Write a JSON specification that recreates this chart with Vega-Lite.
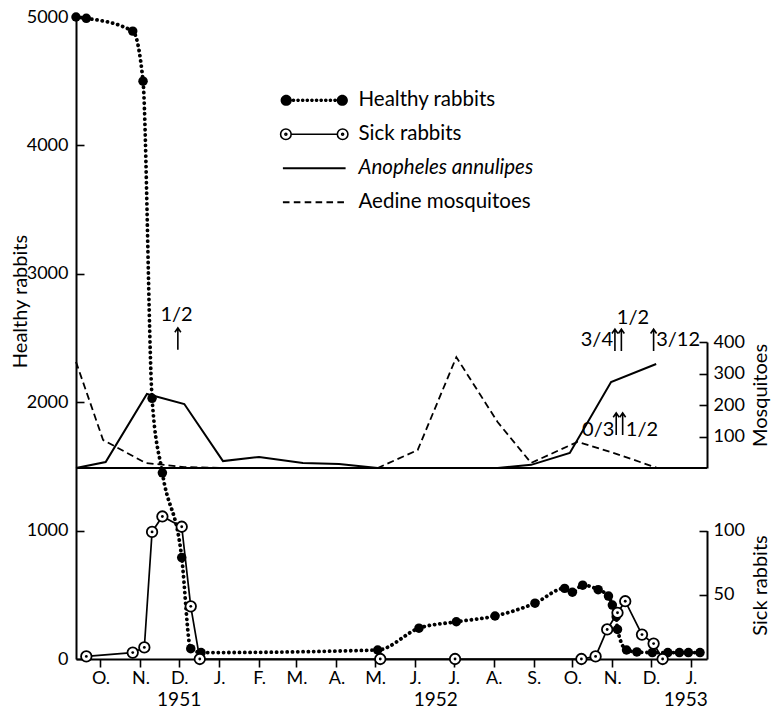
{
  "$schema": "https://vega.github.io/schema/vega-lite/v6.json",
  "width": 631,
  "height": 642,
  "autosize": {"type": "none"},
  "padding": {"left": 76, "top": 17, "right": 64, "bottom": 55},
  "background": "white",
  "config": {
    "view": {"stroke": null},
    "font": "Lato",
    "axis": {
      "domainColor": "black", "domainWidth": 2, "tickColor": "black", "tickWidth": 1.6,
      "labelColor": "black", "titleColor": "black", "labelFont": "Lato", "titleFont": "Lato",
      "labelFontSize": 18, "titleFontSize": 20, "titleFontWeight": "normal", "grid": false
    }
  },
  "datasets": {
    "healthy": [
      {"date": "1951-09-12", "n": 5000}, {"date": "1951-09-20", "n": 4990}, {"date": "1951-10-26", "n": 4890},
      {"date": "1951-11-03", "n": 4500}, {"date": "1951-11-10", "n": 2030}, {"date": "1951-11-18", "n": 1450},
      {"date": "1951-12-03", "n": 790}, {"date": "1951-12-10", "n": 80}, {"date": "1951-12-18", "n": 50},
      {"date": "1952-05-03", "n": 70}, {"date": "1952-06-04", "n": 240}, {"date": "1952-07-03", "n": 290},
      {"date": "1952-08-02", "n": 335}, {"date": "1952-09-02", "n": 435}, {"date": "1952-09-25", "n": 550},
      {"date": "1952-10-01", "n": 520}, {"date": "1952-10-09", "n": 575}, {"date": "1952-10-21", "n": 540},
      {"date": "1952-10-29", "n": 490}, {"date": "1952-11-01", "n": 420}, {"date": "1952-11-04", "n": 330},
      {"date": "1952-11-05", "n": 230}, {"date": "1952-11-12", "n": 70}, {"date": "1952-11-20", "n": 55},
      {"date": "1952-12-02", "n": 50}, {"date": "1952-12-14", "n": 50}, {"date": "1952-12-23", "n": 50},
      {"date": "1952-12-30", "n": 50}, {"date": "1953-01-08", "n": 50}
    ],
    "sick": [
      {"date": "1951-09-20", "n": 2}, {"date": "1951-10-26", "n": 5}, {"date": "1951-11-04", "n": 9},
      {"date": "1951-11-10", "n": 99}, {"date": "1951-11-18", "n": 111}, {"date": "1951-12-03", "n": 103},
      {"date": "1951-12-10", "n": 41}, {"date": "1951-12-17", "n": 0}, {"date": "1952-05-05", "n": 0},
      {"date": "1952-07-02", "n": 0}, {"date": "1952-10-08", "n": 0}, {"date": "1952-10-19", "n": 2},
      {"date": "1952-10-28", "n": 23}, {"date": "1952-11-05", "n": 36}, {"date": "1952-11-11", "n": 45},
      {"date": "1952-11-24", "n": 19}, {"date": "1952-12-03", "n": 12}, {"date": "1952-12-10", "n": 0}
    ],
    "mosq": [
      {"date": "1951-09-12", "species": "Anopheles annulipes", "n": 0},
      {"date": "1951-10-05", "species": "Anopheles annulipes", "n": 19},
      {"date": "1951-11-06", "species": "Anopheles annulipes", "n": 235},
      {"date": "1951-12-05", "species": "Anopheles annulipes", "n": 203},
      {"date": "1952-01-04", "species": "Anopheles annulipes", "n": 22},
      {"date": "1952-02-01", "species": "Anopheles annulipes", "n": 35},
      {"date": "1952-03-06", "species": "Anopheles annulipes", "n": 16},
      {"date": "1952-04-03", "species": "Anopheles annulipes", "n": 13},
      {"date": "1952-05-03", "species": "Anopheles annulipes", "n": 0},
      {"date": "1952-06-03", "species": "Anopheles annulipes", "n": 0},
      {"date": "1952-07-03", "species": "Anopheles annulipes", "n": 0},
      {"date": "1952-08-04", "species": "Anopheles annulipes", "n": 0},
      {"date": "1952-08-30", "species": "Anopheles annulipes", "n": 10},
      {"date": "1952-09-29", "species": "Anopheles annulipes", "n": 48},
      {"date": "1952-10-31", "species": "Anopheles annulipes", "n": 273},
      {"date": "1952-12-05", "species": "Anopheles annulipes", "n": 330},
      {"date": "1951-09-12", "species": "Aedine mosquitoes", "n": 337},
      {"date": "1951-10-03", "species": "Aedine mosquitoes", "n": 89},
      {"date": "1951-11-05", "species": "Aedine mosquitoes", "n": 16},
      {"date": "1951-12-05", "species": "Aedine mosquitoes", "n": 3},
      {"date": "1952-01-04", "species": "Aedine mosquitoes", "n": 0},
      {"date": "1952-02-01", "species": "Aedine mosquitoes", "n": 0},
      {"date": "1952-03-06", "species": "Aedine mosquitoes", "n": 0},
      {"date": "1952-04-03", "species": "Aedine mosquitoes", "n": 0},
      {"date": "1952-05-03", "species": "Aedine mosquitoes", "n": 0},
      {"date": "1952-06-03", "species": "Aedine mosquitoes", "n": 57},
      {"date": "1952-07-03", "species": "Aedine mosquitoes", "n": 352},
      {"date": "1952-08-04", "species": "Aedine mosquitoes", "n": 146},
      {"date": "1952-08-30", "species": "Aedine mosquitoes", "n": 16},
      {"date": "1952-10-05", "species": "Aedine mosquitoes", "n": 83},
      {"date": "1952-11-04", "species": "Aedine mosquitoes", "n": 45},
      {"date": "1952-12-06", "species": "Aedine mosquitoes", "n": 0}
    ],
    "fractions": [
      {"date": "1951-11-29", "m": 486, "t": "1/2"},
      {"date": "1952-11-17", "m": 476, "t": "1/2"},
      {"date": "1952-10-20", "m": 406, "t": "3/4"},
      {"date": "1952-12-22", "m": 406, "t": "3/12"},
      {"date": "1952-10-21", "m": 121, "t": "0/3"},
      {"date": "1952-11-24", "m": 121, "t": "1/2"}
    ],
    "arrows": [
      {"date": "1951-11-30", "m": 410},
      {"date": "1952-11-03", "m": 406},
      {"date": "1952-11-08", "m": 406},
      {"date": "1952-12-03", "m": 406},
      {"date": "1952-11-04", "m": 140},
      {"date": "1952-11-09", "m": 140}
    ],
    "years": [
      {"date": "1951-12-01", "t": "1951"},
      {"date": "1952-06-17", "t": "1952"},
      {"date": "1952-12-28", "t": "1953"}
    ]
  },
  "layer": [
    {
      "layer": [
        {
          "data": {"name": "healthy"},
          "mark": {"type": "line", "interpolate": "monotone", "strokeDash": [0.1, 5.2], "strokeCap": "round", "strokeWidth": 3.8},
          "encoding": {
            "x": {"field": "date", "type": "temporal", "title": null,
              "scale": {"type": "utc", "domain": [{"year": 1951, "month": 9, "date": 12, "utc": true}, {"year": 1953, "month": 1, "date": 13, "hours": 10, "utc": true}]},
              "axis": {"orient": "bottom",
                "values": [
                  {"year": 1951, "month": 10, "date": 1, "utc": true}, {"year": 1951, "month": 11, "date": 1, "utc": true},
                  {"year": 1951, "month": 12, "date": 1, "utc": true}, {"year": 1952, "month": 1, "date": 1, "utc": true},
                  {"year": 1952, "month": 2, "date": 1, "utc": true}, {"year": 1952, "month": 3, "date": 1, "utc": true},
                  {"year": 1952, "month": 4, "date": 1, "utc": true}, {"year": 1952, "month": 5, "date": 1, "utc": true},
                  {"year": 1952, "month": 6, "date": 1, "utc": true}, {"year": 1952, "month": 7, "date": 1, "utc": true},
                  {"year": 1952, "month": 8, "date": 1, "utc": true}, {"year": 1952, "month": 9, "date": 1, "utc": true},
                  {"year": 1952, "month": 10, "date": 1, "utc": true}, {"year": 1952, "month": 11, "date": 1, "utc": true},
                  {"year": 1952, "month": 12, "date": 1, "utc": true}, {"year": 1953, "month": 1, "date": 1, "utc": true}
                ],
                "labelExpr": "substring(utcFormat(datum.value, '%b'), 0, 1) + '.'",
                "tickSize": 8, "labelPadding": 2, "labelOverlap": false, "labelFlush": false}},
            "y": {"field": "n", "type": "quantitative", "title": "Healthy rabbits",
              "scale": {"domain": [0, 5000], "nice": false, "zero": true},
              "axis": {"orient": "left", "values": [0, 1000, 2000, 3000, 4000, 5000], "format": "d", "tickSize": -8, "labelPadding": 16,
                "titleAngle": 270, "titleX": -56, "titleY": 284, "titleBaseline": "middle", "titleAlign": "center"}},
            "color": {"datum": "Healthy rabbits", "type": "nominal",
              "scale": {"domain": ["Healthy rabbits", "Sick rabbits", "Anopheles annulipes", "Aedine mosquitoes"], "range": ["black", "black", "black", "black"]},
              "legend": {
                "orient": "none", "legendX": 204, "legendY": 73, "title": null,
                "symbolSize": 4356, "rowPadding": 13, "labelOffset": 34, "symbolOffset": 24,
                "labelFontSize": 20.5, "labelFont": "Lato", "labelColor": "black", "labelLimit": 400,
                "encode": {
                  "symbols": {"update": {
                    "shape": {"signal": "datum.value === 'Healthy rabbits' ? 'M-1.02,0A0.17,0.17,0,1,0,-0.68,0A0.17,0.17,0,1,0,-1.02,0ZM0.68,0A0.17,0.17,0,1,0,1.02,0A0.17,0.17,0,1,0,0.68,0ZM-0.685,0A0.055,0.055,0,1,0,-0.575,0A0.055,0.055,0,1,0,-0.685,0ZM-0.545,0A0.055,0.055,0,1,0,-0.435,0A0.055,0.055,0,1,0,-0.545,0ZM-0.405,0A0.055,0.055,0,1,0,-0.295,0A0.055,0.055,0,1,0,-0.405,0ZM-0.265,0A0.055,0.055,0,1,0,-0.155,0A0.055,0.055,0,1,0,-0.265,0ZM-0.125,0A0.055,0.055,0,1,0,-0.015,0A0.055,0.055,0,1,0,-0.125,0ZM0.015,0A0.055,0.055,0,1,0,0.125,0A0.055,0.055,0,1,0,0.015,0ZM0.155,0A0.055,0.055,0,1,0,0.265,0A0.055,0.055,0,1,0,0.155,0ZM0.295,0A0.055,0.055,0,1,0,0.405,0A0.055,0.055,0,1,0,0.295,0ZM0.435,0A0.055,0.055,0,1,0,0.545,0A0.055,0.055,0,1,0,0.435,0ZM0.575,0A0.055,0.055,0,1,0,0.685,0A0.055,0.055,0,1,0,0.575,0Z' : datum.value === 'Sick rabbits' ? 'M-0.7,0L0.7,0M-1.02,0A0.16,0.16,0,1,0,-0.7,0A0.16,0.16,0,1,0,-1.02,0ZM0.7,0A0.16,0.16,0,1,0,1.02,0A0.16,0.16,0,1,0,0.7,0ZM-0.89,0A0.03,0.03,0,1,0,-0.83,0A0.03,0.03,0,1,0,-0.89,0ZM0.83,0A0.03,0.03,0,1,0,0.89,0A0.03,0.03,0,1,0,0.83,0Z' : datum.value === 'Anopheles annulipes' ? 'M-0.95,0L0.95,0' : 'M-0.95,0L-0.75,0M-0.62,0L-0.42,0M-0.29,0L-0.09,0M0.04,0L0.24,0M0.37,0L0.57,0M0.7,0L0.9,0'"},
                    "fill": {"signal": "datum.value === 'Healthy rabbits' ? 'black' : 'transparent'"},
                    "stroke": {"value": "black"},
                    "strokeWidth": {"signal": "datum.value === 'Healthy rabbits' ? 0 : datum.value === 'Sick rabbits' ? 1.6 : 2"},
                    "size": {"value": 4356},
                    "opacity": {"value": 1}
                  }},
                  "labels": {"update": {
                    "fontStyle": {"signal": "datum.value === 'Anopheles annulipes' ? 'italic' : 'normal'"}
                  }}
                }
              }}
          }
        },
        {
          "data": {"name": "healthy"},
          "mark": {"type": "point", "shape": "circle", "filled": true, "color": "black", "size": 90, "opacity": 1},
          "encoding": {
            "x": {"field": "date", "type": "temporal",
              "scale": {"type": "utc", "domain": [{"year": 1951, "month": 9, "date": 12, "utc": true}, {"year": 1953, "month": 1, "date": 13, "hours": 10, "utc": true}]}},
            "y": {"field": "n", "type": "quantitative", "scale": {"domain": [0, 5000], "nice": false, "zero": true}}
          }
        },
        {
          "data": {"name": "years"},
          "mark": {"type": "text", "font": "Lato", "fontSize": 19, "baseline": "middle", "align": "center", "color": "black"},
          "encoding": {
            "x": {"field": "date", "type": "temporal",
              "scale": {"type": "utc", "domain": [{"year": 1951, "month": 9, "date": 12, "utc": true}, {"year": 1953, "month": 1, "date": 13, "hours": 10, "utc": true}]}},
            "y": {"datum": -320, "type": "quantitative", "scale": {"domain": [0, 5000], "nice": false, "zero": true}},
            "text": {"field": "t"}
          }
        }
      ]
    },
    {
      "layer": [
        {
          "data": {"name": "sick"},
          "mark": {"type": "line", "strokeWidth": 1.7},
          "encoding": {
            "x": {"field": "date", "type": "temporal",
              "scale": {"type": "utc", "domain": [{"year": 1951, "month": 9, "date": 12, "utc": true}, {"year": 1953, "month": 1, "date": 13, "hours": 10, "utc": true}]}},
            "y": {"field": "n", "type": "quantitative", "title": "Sick rabbits",
              "scale": {"domain": [0, 100], "range": [642, 513.6], "nice": false, "zero": false},
              "axis": {"orient": "right", "values": [50, 100], "format": "d", "tickSize": -8, "labelPadding": 14,
                "titleAngle": 270, "titleX": 53, "titleY": 568, "titleBaseline": "middle", "titleAlign": "center"}},
            "color": {"datum": "Sick rabbits", "type": "nominal",
              "scale": {"domain": ["Healthy rabbits", "Sick rabbits", "Anopheles annulipes", "Aedine mosquitoes"], "range": ["black", "black", "black", "black"]}}
          }
        },
        {
          "data": {"name": "sick"},
          "mark": {"type": "point", "shape": "circle", "filled": true, "fill": "white", "stroke": "black", "strokeWidth": 1.8, "size": 110, "opacity": 1},
          "encoding": {
            "x": {"field": "date", "type": "temporal",
              "scale": {"type": "utc", "domain": [{"year": 1951, "month": 9, "date": 12, "utc": true}, {"year": 1953, "month": 1, "date": 13, "hours": 10, "utc": true}]}},
            "y": {"field": "n", "type": "quantitative", "title": "Sick rabbits", "scale": {"domain": [0, 100], "range": [642, 513.6], "nice": false, "zero": false}}
          }
        },
        {
          "data": {"name": "sick"},
          "mark": {"type": "point", "shape": "circle", "filled": true, "color": "black", "size": 8, "opacity": 1},
          "encoding": {
            "x": {"field": "date", "type": "temporal",
              "scale": {"type": "utc", "domain": [{"year": 1951, "month": 9, "date": 12, "utc": true}, {"year": 1953, "month": 1, "date": 13, "hours": 10, "utc": true}]}},
            "y": {"field": "n", "type": "quantitative", "title": "Sick rabbits", "scale": {"domain": [0, 100], "range": [642, 513.6], "nice": false, "zero": false}}
          }
        }
      ]
    },
    {
      "layer": [
        {
          "data": {"values": [{}]},
          "mark": {"type": "rule", "strokeWidth": 2, "color": "black"},
          "encoding": {
            "y": {"datum": 0, "type": "quantitative", "title": "Mosquitoes", "scale": {"domain": [0, 400], "range": [451, 325], "nice": false, "zero": false}}
          }
        },
        {
          "data": {"name": "mosq"},
          "transform": [{"filter": "datum.species === 'Anopheles annulipes'"}],
          "mark": {"type": "line", "strokeWidth": 2},
          "encoding": {
            "x": {"field": "date", "type": "temporal",
              "scale": {"type": "utc", "domain": [{"year": 1951, "month": 9, "date": 12, "utc": true}, {"year": 1953, "month": 1, "date": 13, "hours": 10, "utc": true}]}},
            "y": {"field": "n", "type": "quantitative", "title": "Mosquitoes",
              "scale": {"domain": [0, 400], "range": [451, 325], "nice": false, "zero": false},
              "axis": {"orient": "right", "values": [100, 200, 300, 400], "format": "d", "tickSize": -8, "labelPadding": 14,
                "titleAngle": 270, "titleX": 53, "titleY": 378, "titleBaseline": "middle", "titleAlign": "center"}},
            "color": {"datum": "Anopheles annulipes", "type": "nominal",
              "scale": {"domain": ["Healthy rabbits", "Sick rabbits", "Anopheles annulipes", "Aedine mosquitoes"], "range": ["black", "black", "black", "black"]}}
          }
        },
        {
          "data": {"name": "mosq"},
          "transform": [{"filter": "datum.species === 'Aedine mosquitoes'"}],
          "mark": {"type": "line", "strokeWidth": 1.8, "strokeDash": [7, 4]},
          "encoding": {
            "x": {"field": "date", "type": "temporal",
              "scale": {"type": "utc", "domain": [{"year": 1951, "month": 9, "date": 12, "utc": true}, {"year": 1953, "month": 1, "date": 13, "hours": 10, "utc": true}]}},
            "y": {"field": "n", "type": "quantitative", "title": "Mosquitoes", "scale": {"domain": [0, 400], "range": [451, 325], "nice": false, "zero": false}},
            "color": {"datum": "Aedine mosquitoes", "type": "nominal",
              "scale": {"domain": ["Healthy rabbits", "Sick rabbits", "Anopheles annulipes", "Aedine mosquitoes"], "range": ["black", "black", "black", "black"]}}
          }
        },
        {
          "data": {"name": "fractions"},
          "mark": {"type": "text", "font": "Lato", "fontSize": 20, "baseline": "middle", "align": "center", "color": "black"},
          "encoding": {
            "x": {"field": "date", "type": "temporal",
              "scale": {"type": "utc", "domain": [{"year": 1951, "month": 9, "date": 12, "utc": true}, {"year": 1953, "month": 1, "date": 13, "hours": 10, "utc": true}]}},
            "y": {"field": "m", "type": "quantitative", "title": "Mosquitoes", "scale": {"domain": [0, 400], "range": [451, 325], "nice": false, "zero": false}},
            "text": {"field": "t"}
          }
        },
        {
          "data": {"name": "arrows"},
          "mark": {"type": "point", "shape": "M0,1L0,-1M-0.27,-0.6L0,-1L0.27,-0.6", "filled": false, "stroke": "black", "strokeWidth": 1.6, "size": 484, "opacity": 1},
          "encoding": {
            "x": {"field": "date", "type": "temporal",
              "scale": {"type": "utc", "domain": [{"year": 1951, "month": 9, "date": 12, "utc": true}, {"year": 1953, "month": 1, "date": 13, "hours": 10, "utc": true}]}},
            "y": {"field": "m", "type": "quantitative", "title": "Mosquitoes", "scale": {"domain": [0, 400], "range": [451, 325], "nice": false, "zero": false}}
          }
        }
      ]
    }
  ],
  "resolve": {"scale": {"y": "independent"}, "axis": {"y": "independent"}}
}
